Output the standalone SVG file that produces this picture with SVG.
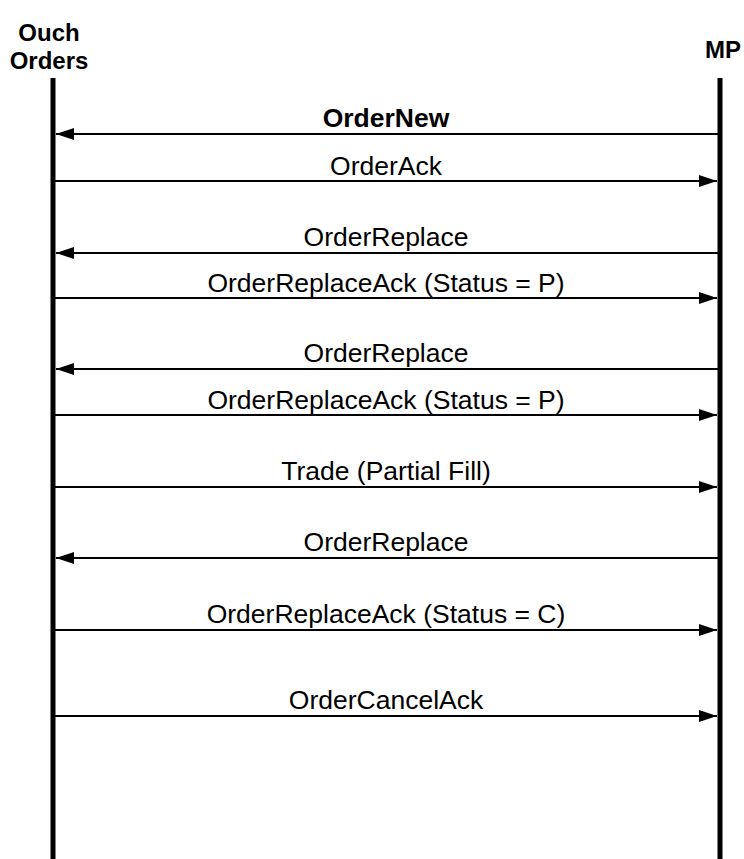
<svg xmlns="http://www.w3.org/2000/svg" width="744" height="859" viewBox="0 0 744 859">
<defs>
<style>
.life{stroke:#000;stroke-width:5;fill:none}
.msg{stroke:#000;stroke-width:2;fill:none}
.lbl{font-family:"Liberation Sans",Arial,sans-serif;font-size:26.5px;fill:#000;text-anchor:middle}
.hdr{font-family:"Liberation Sans",Arial,sans-serif;font-size:24px;font-weight:bold;fill:#000;text-anchor:middle}
.b{font-weight:bold}
</style>
<marker id="ah" viewBox="0 0 18 12" refX="18" refY="6" markerWidth="18" markerHeight="12" markerUnits="userSpaceOnUse" orient="auto">
<path d="M0,0 L18,6 L0,12 Z" fill="#000"/>
</marker>
</defs>
<rect width="744" height="859" fill="#fff"/>
<g id="ouch">
<text class="hdr" x="49" y="41">Ouch</text>
<text class="hdr" x="49" y="69">Orders</text>
<line class="life" x1="53" y1="78" x2="53" y2="859"/>
</g>
<g id="mp">
<text class="hdr" x="705" y="58" style="text-anchor:start">MP</text>
<line class="life" x1="720" y1="78" x2="720" y2="859"/>
</g>
<g id="connectors">
<line class="msg" x1="718" y1="134" x2="56" y2="134" marker-end="url(#ah)"/>
<text class="lbl b" x="386" y="127">OrderNew</text>
<line class="msg" x1="55" y1="181" x2="717" y2="181" marker-end="url(#ah)"/>
<text class="lbl" x="386" y="175">OrderAck</text>
<line class="msg" x1="718" y1="253" x2="56" y2="253" marker-end="url(#ah)"/>
<text class="lbl" x="386" y="246">OrderReplace</text>
<line class="msg" x1="55" y1="298" x2="717" y2="298" marker-end="url(#ah)"/>
<text class="lbl" x="386" y="292">OrderReplaceAck (Status = P)</text>
<line class="msg" x1="718" y1="369" x2="56" y2="369" marker-end="url(#ah)"/>
<text class="lbl" x="386" y="362">OrderReplace</text>
<line class="msg" x1="55" y1="415" x2="717" y2="415" marker-end="url(#ah)"/>
<text class="lbl" x="386" y="409">OrderReplaceAck (Status = P)</text>
<line class="msg" x1="55" y1="487" x2="717" y2="487" marker-end="url(#ah)"/>
<text class="lbl" x="386" y="480">Trade (Partial Fill)</text>
<line class="msg" x1="718" y1="558" x2="56" y2="558" marker-end="url(#ah)"/>
<text class="lbl" x="386" y="551">OrderReplace</text>
<line class="msg" x1="55" y1="630" x2="717" y2="630" marker-end="url(#ah)"/>
<text class="lbl" x="386" y="623">OrderReplaceAck (Status = C)</text>
<line class="msg" x1="55" y1="716" x2="717" y2="716" marker-end="url(#ah)"/>
<text class="lbl" x="386" y="709">OrderCancelAck</text>
</g>
</svg>
